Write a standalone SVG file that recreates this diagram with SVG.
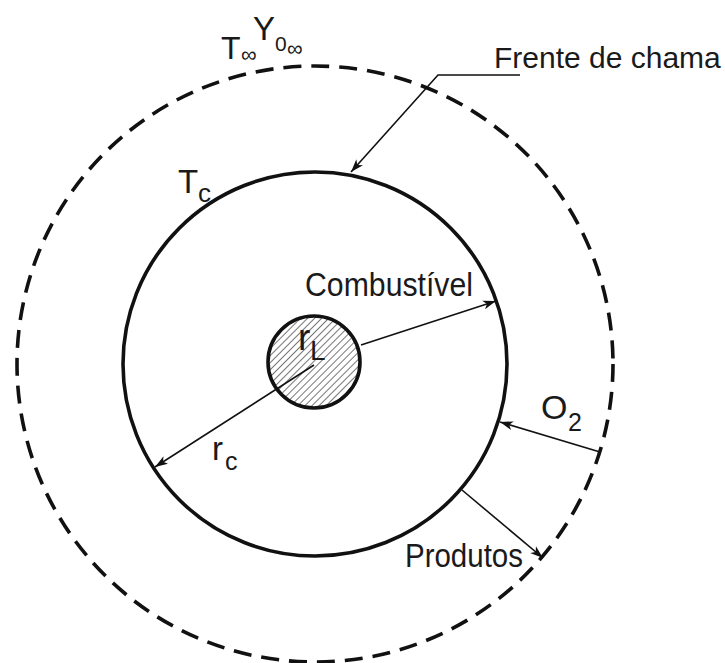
<svg xmlns="http://www.w3.org/2000/svg" width="725" height="663" viewBox="0 0 725 663">
<style>
.lbl{font-family:"Liberation Sans",Arial,sans-serif;fill:#1a1a1a;}
.ln{fill:none;stroke:#111;stroke-width:1.6;}
.thick{fill:none;stroke:#111;stroke-width:3.6;}
</style>
<defs>
<marker id="arr" markerUnits="userSpaceOnUse" markerWidth="16" markerHeight="12" refX="13" refY="5" orient="auto">
<path d="M0,0.5 L13,5 L0,9.5 L3.5,5 Z" fill="#111"/>
</marker>
<pattern id="hatch" width="5" height="5" patternUnits="userSpaceOnUse" patternTransform="rotate(45)">
<line x1="2.5" y1="0" x2="2.5" y2="5" stroke="#777" stroke-width="1"/>
</pattern>
</defs>
<rect width="725" height="663" fill="#fff"/>
<g id="ambient">
<circle cx="315" cy="364" r="298" fill="none" stroke="#111" stroke-width="3.6" stroke-dasharray="18 10"/>
</g>
<g id="flame-front">
<circle cx="315" cy="364" r="192" class="thick"/>
</g>
<g id="droplet">
<circle cx="314" cy="362" r="46" fill="url(#hatch)" stroke="#111" stroke-width="3.6"/>
</g>
<g id="connectors">
<polyline class="ln" points="520,75 438,75 351,172" marker-end="url(#arr)"/>
<line class="ln" x1="361" y1="345" x2="496" y2="301" marker-end="url(#arr)"/>
<line class="ln" x1="314" y1="365" x2="155" y2="467" marker-end="url(#arr)"/>
<line class="ln" x1="600" y1="452" x2="500" y2="422" marker-end="url(#arr)"/>
<line class="ln" x1="462" y1="490" x2="543" y2="558" marker-end="url(#arr)"/>
</g>
<g id="labels">
<text class="lbl" x="494" y="68" font-size="30">Frente de chama</text>
<text class="lbl" x="305" y="296" font-size="34" textLength="168" lengthAdjust="spacingAndGlyphs">Combustível</text>
<text class="lbl" x="405" y="567" font-size="34" textLength="118" lengthAdjust="spacingAndGlyphs">Produtos</text>
<text class="lbl" x="541" y="419" font-size="34">O<tspan x="568" y="431" font-size="25">2</tspan></text>
<text class="lbl" x="212" y="460" font-size="33">r<tspan x="225" y="470" font-size="25">c</tspan></text>
<text class="lbl" x="298" y="350" font-size="37">r<tspan x="310" y="360" font-size="28">L</tspan></text>
<text class="lbl" x="178" y="193" font-size="33">T<tspan x="198" y="202" font-size="26">c</tspan></text>
<text class="lbl" x="221" y="59" font-size="32">T<tspan x="241" y="62" font-size="22">∞</tspan></text>
<text class="lbl" x="253" y="40" font-size="33">Y<tspan x="275" y="51" font-size="21">0</tspan><tspan x="287" y="56" font-size="22">∞</tspan></text>
</g>
</svg>
